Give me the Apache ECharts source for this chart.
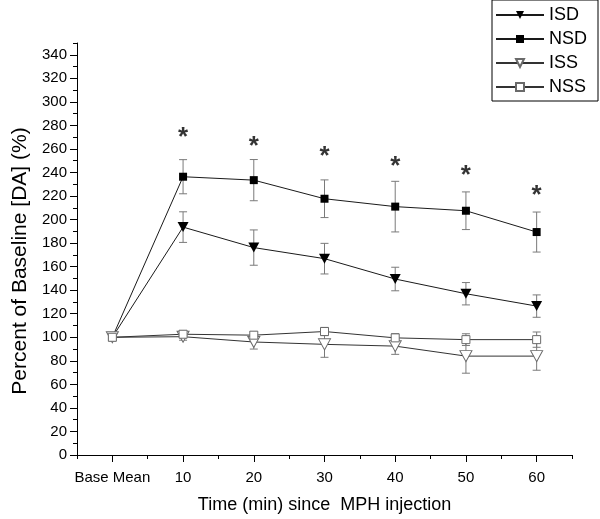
<!DOCTYPE html>
<html>
<head>
<meta charset="utf-8">
<script src="https://cdn.jsdelivr.net/npm/echarts@6/dist/echarts.min.js"></script>
<style>
  html, body { margin: 0; padding: 0; background: #fff; }
  #chart { width: 600px; height: 519px; }
</style>
</head>
<body>
<div id="chart"></div>
<script>
// x positions: 0 = Base Mean, then minutes since injection
const xVals = [0, 10, 20, 30, 40, 50, 60]
const xTicks = [0, 10, 20, 30, 40, 50, 60]
const xMinorTicks = [-5, 5, 15, 25, 35, 45, 55, 65]
const yTicks = [0, 20, 40, 60, 80, 100, 120, 140, 160, 180, 200, 220, 240, 260, 280, 300, 320, 340]
const yMinorTicks = [10, 30, 50, 70, 90, 110, 130, 150, 170, 190, 210, 230, 250, 270, 290, 310, 330, 350]

const isd = [100, 193.6, 176.2, 166.8, 149.5, 137, 126.5]
const isdErr = [0, 13, 15, 13, 10, 9.5, 9.5]
const nsd = [100, 236.4, 233.5, 217.7, 211, 207.5, 189.4]
const nsdErr = [0, 14.5, 17.5, 16, 21.5, 16, 17]
const iss = [100, 100.5, 96, 94, 92.5, 84, 84]
const issErr = [0, 3, 6, 11, 7, 14.5, 12]
const nss = [100, 102.6, 101.8, 104.9, 99.5, 98, 98]
const nssErr = [0, 3, 3, 3.5, 3.6, 5, 6.5]

// significance marks (value where the * sits)
const starX = [10, 20, 30, 40, 50, 60]
const starY = [269.5, 262, 253.5, 245, 237.5, 220.5]

const font = 'Liberation Sans, Arial, sans-serif'

const chart = echarts.init(document.getElementById('chart'))

const toPoints = (vals) => xVals.map((x, i) => [x, vals[i]])
const toErr = (vals, errs) => xVals.map((x, i) => [x, vals[i], errs[i]])

function errorBars(vals, errs) {
  return {
    type: 'custom',
    z: 1,
    silent: true,
    data: toErr(vals, errs),
    renderItem: (params, api) => {
      const x = api.value(0)
      const y = api.value(1)
      const e = api.value(2)
      if (!e) return
      const top = api.coord([x, y + e])
      const bot = api.coord([x, y - e])
      const half = 4
      const style = { stroke: '#7a7a7a', lineWidth: 1 }
      return {
        type: 'group',
        children: [
          { type: 'line', shape: { x1: top[0], y1: top[1], x2: bot[0], y2: bot[1] }, style },
          { type: 'line', shape: { x1: top[0] - half, y1: top[1], x2: top[0] + half, y2: top[1] }, style },
          { type: 'line', shape: { x1: bot[0] - half, y1: bot[1], x2: bot[0] + half, y2: bot[1] }, style }
        ]
      }
    }
  }
}

function lineSeries(name, vals, opts) {
  return Object.assign({
    name,
    type: 'line',
    z: 3,
    data: toPoints(vals),
    showAllSymbol: true,
    emphasis: { disabled: true }
  }, opts)
}

const option = {
  animation: false,
  backgroundColor: '#fff',
  textStyle: { fontFamily: font },
  legend: {
    data: ['ISD', 'NSD', 'ISS', 'NSS'],
    orient: 'vertical',
    left: 492,
    top: 0,
    borderColor: '#000',
    borderWidth: 1,
    borderRadius: 0,
    padding: [6, 11, 5, 3],
    itemWidth: 48,
    itemHeight: 10,
    itemGap: 6,
    textStyle: { fontSize: 18, lineHeight: 16, color: '#000', fontFamily: font }
  },
  grid: { left: 77, right: 28, top: 43, bottom: 63 },
  xAxis: [
    {
      type: 'value',
      min: -5,
      max: 65,
      position: 'bottom',
      splitLine: { show: false },
      axisLine: { onZero: false, lineStyle: { color: '#000', width: 1 } },
      axisTick: { customValues: xTicks, length: 7, lineStyle: { color: '#000' } },
      axisLabel: {
        customValues: xTicks,
        margin: 15,
        fontSize: 15,
        color: '#000',
        fontFamily: font,
        formatter: v => (v === 0 ? 'Base Mean' : String(v))
      },
      name: 'Time (min) since  MPH injection',
      nameLocation: 'middle',
      nameGap: 41,
      nameTextStyle: { fontSize: 18, color: '#000', fontFamily: font }
    },
    {
      type: 'value',
      min: -5,
      max: 65,
      position: 'bottom',
      splitLine: { show: false },
      axisLine: { show: false, onZero: false },
      axisTick: { customValues: xMinorTicks, length: 4, lineStyle: { color: '#000' } },
      axisLabel: { show: false }
    }
  ],
  yAxis: [
    {
      type: 'value',
      min: 0,
      max: 350,
      position: 'left',
      splitLine: { show: false },
      axisLine: { show: true, onZero: false, lineStyle: { color: '#000', width: 1 } },
      axisTick: { show: true, customValues: yTicks, length: 7, lineStyle: { color: '#000' } },
      axisLabel: { customValues: yTicks, margin: 10, fontSize: 15, color: '#000', fontFamily: font },
      name: 'Percent of Baseline [DA] (%)',
      nameLocation: 'middle',
      nameGap: 46,
      nameTextStyle: { fontSize: 21, color: '#000', fontFamily: font, padding: [0, 24, 0, 0] }
    },
    {
      type: 'value',
      min: 0,
      max: 350,
      position: 'left',
      splitLine: { show: false },
      axisLine: { show: false, onZero: false },
      axisTick: { show: true, customValues: yMinorTicks, length: 4, lineStyle: { color: '#000' } },
      axisLabel: { show: false }
    }
  ],
  series: [
    errorBars(isd, isdErr),
    errorBars(nsd, nsdErr),
    errorBars(iss, issErr),
    errorBars(nss, nssErr),
    lineSeries('ISD', isd, {
      symbol: 'triangle',
      symbolRotate: 180,
      symbolSize: [11, 10],
      itemStyle: { color: '#000', borderWidth: 0 },
      lineStyle: { color: '#1a1a1a', width: 1 }
    }),
    lineSeries('NSD', nsd, {
      symbol: 'rect',
      symbolSize: 8,
      itemStyle: { color: '#000', borderWidth: 0 },
      lineStyle: { color: '#1a1a1a', width: 1 }
    }),
    lineSeries('ISS', iss, {
      symbol: 'triangle',
      symbolRotate: 180,
      symbolSize: [12, 11],
      itemStyle: { color: '#fff', borderColor: '#6a6a6a', borderWidth: 1 },
      lineStyle: { color: '#333', width: 1 }
    }),
    lineSeries('NSS', nss, {
      symbol: 'rect',
      symbolSize: 8,
      itemStyle: { color: '#fff', borderColor: '#6a6a6a', borderWidth: 1 },
      lineStyle: { color: '#333', width: 1 }
    }),
    {
      type: 'scatter',
      z: 4,
      silent: true,
      symbolSize: 1,
      itemStyle: { color: 'rgba(0,0,0,0)' },
      data: starX.map((x, i) => [x, starY[i]]),
      label: {
        show: true,
        position: 'inside',
        formatter: '*',
        fontSize: 26,
        fontWeight: 'bold',
        color: '#000',
        fontFamily: font
      }
    }
  ]
}

chart.setOption(option)
</script>
</body>
</html>
